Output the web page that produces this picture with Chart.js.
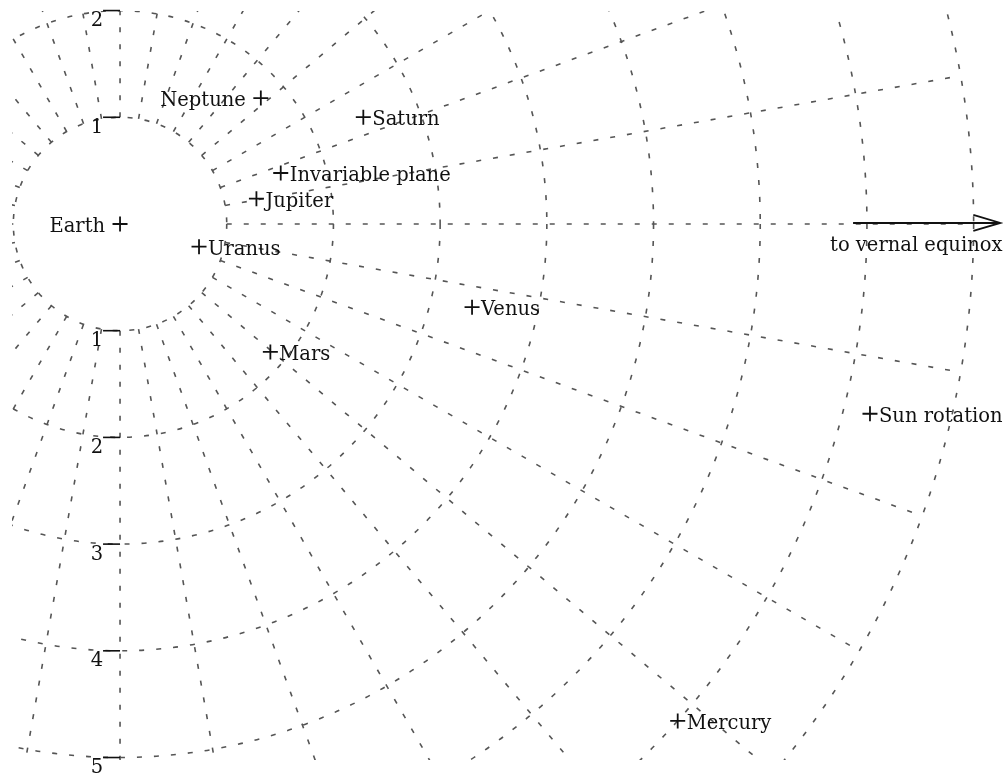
<!DOCTYPE html>
<html>
<head>
<meta charset="utf-8">
<script src="https://cdn.jsdelivr.net/npm/chart.js@4"></script>
<style>
  html, body { margin: 0; padding: 0; background: #fff; }
  canvas { display: block; }
</style>
</head>
<body>
<canvas id="poles" width="1008" height="773"></canvas>
<script>
// Orbital poles relative to the pole of Earth's orbit (degrees)
const bodies = ["Mercury", "Venus", "Earth", "Mars", "Jupiter", "Saturn", "Uranus", "Neptune", "Invariable plane", "Sun rotation"];
const inclination = [7.00, 3.39, 0, 1.85, 1.30, 2.49, 0.77, 1.77, 1.58, 7.25];
const ascendingNode = [48.3, 76.7, 0, 49.6, 100.5, 113.7, 74.0, 131.8, 107.6, 75.8];
const labelSide = ["right", "right", "left", "right", "right", "right", "right", "left", "right", "right"];

// Grid: rings every degree, spokes every 10 degrees
const rings = [1, 2, 3, 4, 5, 6, 7, 8];
const spokeAngles = Array.from({ length: 36 }, (_, i) => i * 10);
const ticksUp = [1, 2];
const ticksDown = [1, 2, 3, 4, 5];

// Arrow toward the vernal equinox (degrees along the x axis)
const arrowFrom = 6.87;
const arrowTo = 8.25;
const arrowLabel = "to vernal equinox";

const FONT = "19.5px 'DejaVu Serif'";

// pole position: inclination as radius, node - 90 as angle
const points = bodies.map((b, i) => {
  const a = (ascendingNode[i] - 90) * Math.PI / 180;
  return { x: inclination[i] * Math.cos(a), y: inclination[i] * Math.sin(a) };
});

const polarGrid = {
  id: "polarGrid",
  beforeDatasetsDraw(chart) {
    const { ctx, scales: { x, y } } = chart;
    const cx = x.getPixelForValue(0), cy = y.getPixelForValue(0);
    const unit = x.getPixelForValue(1) - cx;
    const rMin = rings[0], rMax = rings[rings.length - 1];

    ctx.save();
    ctx.beginPath();
    ctx.rect(12, 11, 996, 749);
    ctx.clip();
    ctx.strokeStyle = "#555";
    ctx.lineWidth = 1.6;
    ctx.setLineDash([5, 12]);

    rings.forEach(r => {
      ctx.beginPath();
      ctx.arc(cx, cy, r * unit, 0, Math.PI * 2);
      ctx.stroke();
    });

    spokeAngles.forEach(deg => {
      const a = deg * Math.PI / 180;
      ctx.beginPath();
      ctx.moveTo(cx + rMin * unit * Math.cos(a), cy - rMin * unit * Math.sin(a));
      ctx.lineTo(cx + rMax * unit * Math.cos(a), cy - rMax * unit * Math.sin(a));
      ctx.stroke();
    });
    ctx.restore();
  },
  afterDatasetsDraw(chart) {
    const { ctx, scales: { x, y } } = chart;
    const cx = x.getPixelForValue(0);
    const cy = y.getPixelForValue(0);

    ctx.save();
    ctx.setLineDash([]);
    ctx.strokeStyle = "#111";
    ctx.fillStyle = "#111";
    ctx.lineWidth = 1.6;
    ctx.font = FONT;

    // radial scale ticks along the vertical spoke
    const tick = (v) => {
      const py = y.getPixelForValue(v);
      ctx.beginPath();
      ctx.moveTo(cx - 17, py);
      ctx.lineTo(cx, py);
      ctx.stroke();
      ctx.textAlign = "right";
      ctx.textBaseline = "alphabetic";
      ctx.fillText(String(Math.abs(v)), cx - 17, py + 15.5);
    };
    ticksUp.forEach(v => tick(v));
    ticksDown.forEach(v => tick(-v));

    // arrow
    const ax0 = x.getPixelForValue(arrowFrom), ax1 = x.getPixelForValue(arrowTo);
    const ay = cy - 1;
    ctx.lineWidth = 1.8;
    ctx.beginPath();
    ctx.moveTo(ax0, ay);
    ctx.lineTo(ax1, ay);
    ctx.moveTo(ax1 - 27, ay - 8);
    ctx.lineTo(ax1, ay);
    ctx.lineTo(ax1 - 27, ay + 8);
    ctx.stroke();
    ctx.textAlign = "left";
    ctx.fillText(arrowLabel, ax0 - 23, cy + 27);

    // body labels
    const meta = chart.getDatasetMeta(0);
    meta.data.forEach((pt, i) => {
      if (labelSide[i] === "left") {
        ctx.textAlign = "right";
        ctx.fillText(bodies[i], pt.x - 15, pt.y + 8);
      } else {
        ctx.textAlign = "left";
        ctx.fillText(bodies[i], pt.x + 9, pt.y + 8);
      }
    });
    ctx.restore();
  }
};

new Chart(document.getElementById("poles"), {
  type: "scatter",
  data: {
    datasets: [{
      data: points,
      pointStyle: "cross",
      pointRadius: 7.5,
      pointBorderWidth: 1.8,
      borderColor: "#111",
      backgroundColor: "#111",
      clip: false
    }]
  },
  options: {
    responsive: false,
    animation: false,
    devicePixelRatio: 1,
    layout: { padding: 0, autoPadding: false },
    events: [],
    plugins: {
      legend: { display: false },
      tooltip: { enabled: false }
    },
    scales: {
      x: { type: "linear", display: false, min: -1.125, max: 8.322 },
      y: { type: "linear", display: false, min: -5.145, max: 2.099 }
    }
  },
  plugins: [polarGrid]
});
</script>
</body>
</html>
